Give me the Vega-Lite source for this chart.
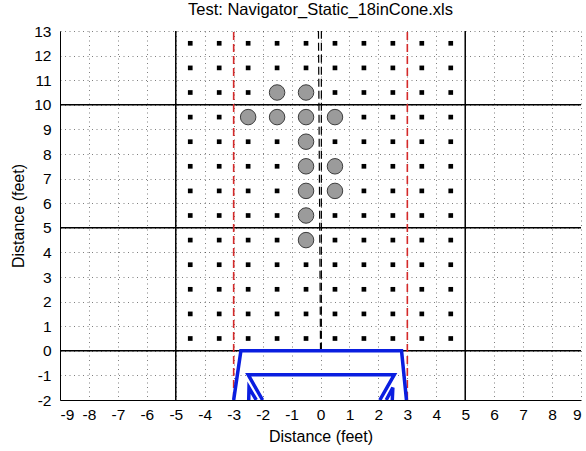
{
  "$schema": "https://vega.github.io/schema/vega-lite/v6.json",
  "autosize": {"type": "none"},
  "width": 521,
  "height": 369,
  "padding": {"left": 60, "top": 31, "right": 5, "bottom": 51},
  "background": "white",
  "title": {
    "text": "Test: Navigator_Static_18inCone.xls",
    "fontSize": 16.5,
    "fontWeight": "normal",
    "font": "Liberation Sans",
    "color": "#000",
    "offset": 6
  },
  "config": {
    "view": {"stroke": null},
    "font": "Liberation Sans",
    "axis": {
      "domainColor": "#000",
      "domainWidth": 1,
      "ticks": false,
      "labelFontSize": 15.5,
      "labelColor": "#000",
      "labelFont": "Liberation Sans",
      "labelExpr": "datum.value + ''",
      "titleFontSize": 16,
      "titleFontWeight": "normal",
      "titleColor": "#000",
      "titleFont": "Liberation Sans",
      "grid": true,
      "gridColor": "#000",
      "gridOpacity": 0.5,
      "gridDash": [1, 3.5],
      "gridWidth": 1
    }
  },
  "datasets": {
    "frame": [
      {"id": "v-5", "i": 0, "x": -5, "y": -2}, {"id": "v-5", "i": 1, "x": -5, "y": 13},
      {"id": "v5", "i": 0, "x": 5, "y": -2}, {"id": "v5", "i": 1, "x": 5, "y": 13},
      {"id": "h0", "i": 0, "x": -9, "y": 0}, {"id": "h0", "i": 1, "x": 9, "y": 0},
      {"id": "h5", "i": 0, "x": -9, "y": 5}, {"id": "h5", "i": 1, "x": 9, "y": 5},
      {"id": "h10", "i": 0, "x": -9, "y": 10}, {"id": "h10", "i": 1, "x": 9, "y": 10}
    ],
    "cone": [
      {"id": "left", "i": 0, "x": -3, "y": -2}, {"id": "left", "i": 1, "x": -3, "y": 13},
      {"id": "right", "i": 0, "x": 3, "y": -2}, {"id": "right", "i": 1, "x": 3, "y": 13}
    ],
    "center": [
      {"id": "a", "i": 0, "x": 0.03, "y": 0}, {"id": "a", "i": 1, "x": 0.03, "y": 13},
      {"id": "b", "i": 0, "x": 0.0, "y": 0}, {"id": "b", "i": 1, "x": -0.07, "y": 13}
    ],
    "vehicle": [
      {"id": "outer", "i": 0, "x": -3.0, "y": -2}, {"id": "outer", "i": 1, "x": -2.75, "y": 0},
      {"id": "outer", "i": 2, "x": 2.8, "y": 0}, {"id": "outer", "i": 3, "x": 2.97, "y": -2},
      {"id": "inner", "i": 0, "x": -2.0, "y": -2}, {"id": "inner", "i": 1, "x": -2.5, "y": -0.97},
      {"id": "inner", "i": 2, "x": 2.55, "y": -0.97}, {"id": "inner", "i": 3, "x": 2.05, "y": -2},
      {"id": "wl", "i": 0, "x": -2.48, "y": -2}, {"id": "wl", "i": 1, "x": -2.47, "y": -1.5},
      {"id": "wl", "i": 2, "x": -2.22, "y": -2},
      {"id": "wr", "i": 0, "x": 2.27, "y": -2}, {"id": "wr", "i": 1, "x": 2.5, "y": -1.5},
      {"id": "wr", "i": 2, "x": 2.48, "y": -2}
    ],
    "targets": [
      {"x": -4.5, "y": 0.5}, {"x": -3.5, "y": 0.5}, {"x": -2.5, "y": 0.5}, {"x": -1.5, "y": 0.5}, {"x": -0.5, "y": 0.5}, {"x": 0.5, "y": 0.5}, {"x": 1.5, "y": 0.5}, {"x": 2.5, "y": 0.5}, {"x": 3.5, "y": 0.5}, {"x": 4.5, "y": 0.5},
      {"x": -4.5, "y": 1.5}, {"x": -3.5, "y": 1.5}, {"x": -2.5, "y": 1.5}, {"x": -1.5, "y": 1.5}, {"x": -0.5, "y": 1.5}, {"x": 0.5, "y": 1.5}, {"x": 1.5, "y": 1.5}, {"x": 2.5, "y": 1.5}, {"x": 3.5, "y": 1.5}, {"x": 4.5, "y": 1.5},
      {"x": -4.5, "y": 2.5}, {"x": -3.5, "y": 2.5}, {"x": -2.5, "y": 2.5}, {"x": -1.5, "y": 2.5}, {"x": -0.5, "y": 2.5}, {"x": 0.5, "y": 2.5}, {"x": 1.5, "y": 2.5}, {"x": 2.5, "y": 2.5}, {"x": 3.5, "y": 2.5}, {"x": 4.5, "y": 2.5},
      {"x": -4.5, "y": 3.5}, {"x": -3.5, "y": 3.5}, {"x": -2.5, "y": 3.5}, {"x": -1.5, "y": 3.5}, {"x": -0.5, "y": 3.5}, {"x": 0.5, "y": 3.5}, {"x": 1.5, "y": 3.5}, {"x": 2.5, "y": 3.5}, {"x": 3.5, "y": 3.5}, {"x": 4.5, "y": 3.5},
      {"x": -4.5, "y": 4.5}, {"x": -3.5, "y": 4.5}, {"x": -2.5, "y": 4.5}, {"x": -1.5, "y": 4.5}, {"x": 0.5, "y": 4.5}, {"x": 1.5, "y": 4.5}, {"x": 2.5, "y": 4.5}, {"x": 3.5, "y": 4.5}, {"x": 4.5, "y": 4.5},
      {"x": -4.5, "y": 5.5}, {"x": -3.5, "y": 5.5}, {"x": -2.5, "y": 5.5}, {"x": -1.5, "y": 5.5}, {"x": 0.5, "y": 5.5}, {"x": 1.5, "y": 5.5}, {"x": 2.5, "y": 5.5}, {"x": 3.5, "y": 5.5}, {"x": 4.5, "y": 5.5},
      {"x": -4.5, "y": 6.5}, {"x": -3.5, "y": 6.5}, {"x": -2.5, "y": 6.5}, {"x": -1.5, "y": 6.5}, {"x": 1.5, "y": 6.5}, {"x": 2.5, "y": 6.5}, {"x": 3.5, "y": 6.5}, {"x": 4.5, "y": 6.5},
      {"x": -4.5, "y": 7.5}, {"x": -3.5, "y": 7.5}, {"x": -2.5, "y": 7.5}, {"x": -1.5, "y": 7.5}, {"x": 1.5, "y": 7.5}, {"x": 2.5, "y": 7.5}, {"x": 3.5, "y": 7.5}, {"x": 4.5, "y": 7.5},
      {"x": -4.5, "y": 8.5}, {"x": -3.5, "y": 8.5}, {"x": -2.5, "y": 8.5}, {"x": -1.5, "y": 8.5}, {"x": 0.5, "y": 8.5}, {"x": 1.5, "y": 8.5}, {"x": 2.5, "y": 8.5}, {"x": 3.5, "y": 8.5}, {"x": 4.5, "y": 8.5},
      {"x": -4.5, "y": 9.5}, {"x": -3.5, "y": 9.5}, {"x": 1.5, "y": 9.5}, {"x": 2.5, "y": 9.5}, {"x": 3.5, "y": 9.5}, {"x": 4.5, "y": 9.5},
      {"x": -4.5, "y": 10.5}, {"x": -3.5, "y": 10.5}, {"x": -2.5, "y": 10.5}, {"x": 0.5, "y": 10.5}, {"x": 1.5, "y": 10.5}, {"x": 2.5, "y": 10.5}, {"x": 3.5, "y": 10.5}, {"x": 4.5, "y": 10.5},
      {"x": -4.5, "y": 11.5}, {"x": -3.5, "y": 11.5}, {"x": -2.5, "y": 11.5}, {"x": -1.5, "y": 11.5}, {"x": -0.5, "y": 11.5}, {"x": 0.5, "y": 11.5}, {"x": 1.5, "y": 11.5}, {"x": 2.5, "y": 11.5}, {"x": 3.5, "y": 11.5}, {"x": 4.5, "y": 11.5},
      {"x": -4.5, "y": 12.5}, {"x": -3.5, "y": 12.5}, {"x": -2.5, "y": 12.5}, {"x": -1.5, "y": 12.5}, {"x": -0.5, "y": 12.5}, {"x": 0.5, "y": 12.5}, {"x": 1.5, "y": 12.5}, {"x": 2.5, "y": 12.5}, {"x": 3.5, "y": 12.5}, {"x": 4.5, "y": 12.5}
    ],
    "hits": [
      {"x": -1.5, "y": 10.5}, {"x": -0.5, "y": 10.5},
      {"x": -2.5, "y": 9.5}, {"x": -1.5, "y": 9.5}, {"x": -0.5, "y": 9.5}, {"x": 0.5, "y": 9.5},
      {"x": -0.5, "y": 8.5},
      {"x": -0.5, "y": 7.5}, {"x": 0.5, "y": 7.5},
      {"x": -0.5, "y": 6.5}, {"x": 0.5, "y": 6.5},
      {"x": -0.5, "y": 5.5},
      {"x": -0.5, "y": 4.5}
    ]
  },
  "encoding": {
    "x": {
      "field": "x",
      "type": "quantitative",
      "scale": {"domain": [-9, 9], "nice": false, "zero": false},
      "axis": {
        "title": "Distance (feet)",
        "values": [-9, -8, -7, -6, -5, -4, -3, -2, -1, 0, 1, 2, 3, 4, 5, 6, 7, 8, 9],
        "labelPadding": 7,
        "titlePadding": 6
      }
    },
    "y": {
      "field": "y",
      "type": "quantitative",
      "scale": {"domain": [-2, 13], "nice": false, "zero": false},
      "axis": {
        "title": "Distance (feet)",
        "values": [-2, -1, 0, 1, 2, 3, 4, 5, 6, 7, 8, 9, 10, 11, 12, 13],
        "labelPadding": 9,
        "titlePadding": 7
      }
    }
  },
  "layer": [
    {
      "data": {"name": "frame"},
      "mark": {"type": "line", "color": "#000", "strokeWidth": 1.5, "clip": true},
      "encoding": {"detail": {"field": "id"}, "order": {"field": "i"}}
    },
    {
      "data": {"name": "cone"},
      "mark": {"type": "line", "color": "#d42a2a", "strokeWidth": 1.6, "strokeDash": [8, 4], "clip": true},
      "encoding": {"detail": {"field": "id"}, "order": {"field": "i"}}
    },
    {
      "data": {"name": "center"},
      "mark": {"type": "line", "color": "#000", "strokeWidth": 1.2, "strokeDash": [8, 4], "clip": true},
      "encoding": {"detail": {"field": "id"}, "order": {"field": "i"}}
    },
    {
      "data": {"name": "vehicle"},
      "mark": {"type": "line", "color": "#0a1ee0", "strokeWidth": 3.5, "strokeJoin": "miter", "clip": true},
      "encoding": {"detail": {"field": "id"}, "order": {"field": "i"}}
    },
    {
      "data": {"name": "targets"},
      "mark": {"type": "point", "shape": "square", "filled": true, "color": "#000", "opacity": 1, "size": 22}
    },
    {
      "data": {"name": "hits"},
      "mark": {"type": "point", "shape": "circle", "filled": true, "fill": "#9b9b9b", "stroke": "#3c3c3c", "strokeWidth": 1, "opacity": 1, "size": 240}
    }
  ]
}
